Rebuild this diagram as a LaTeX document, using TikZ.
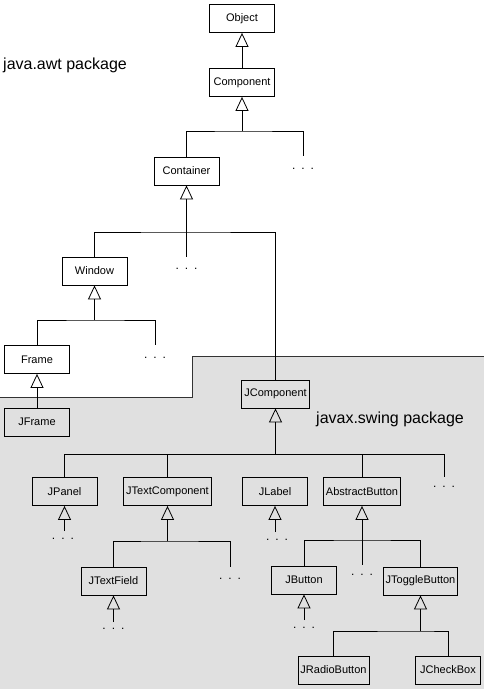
\documentclass[tikz,border=0pt]{standalone}
\usepackage{fontspec}
\setmainfont{Liberation Sans}
\usepackage{tikz}
\usetikzlibrary{arrows.meta}

\newcommand{\moredots}{.\hspace{6pt}.\hspace{6pt}.}

\begin{document}
\begin{tikzpicture}[x=1pt,y=-1pt,
		cls/.style={draw, line width=.8pt, minimum width=65pt, minimum height=28pt, inner xsep=2.5pt, font=\fontsize{11}{13}\selectfont},
		inh/.style={-{Triangle[open,width=13pt,length=14pt]}, line width=.8pt},
		tree/.style={line width=.8pt},
		more/.style={anchor=base, inner sep=0pt, font=\fontsize{12}{14}\selectfont},
		pkg/.style={anchor=west, inner sep=0pt, font=\fontsize{16}{19}\selectfont}]
		\useasboundingbox (0,0) rectangle (484,689);

		% swing area
		\fill[black!12] (0,397) -- (192,397) -- (192,356) -- (484,356) -- (484,689) -- (0,689) -- cycle;
		\draw[line width=.8pt, black!80] (0,397) -- (192,397) -- (192,356) -- (484,356);

		\node[pkg] (awt) at (3,65) {java.awt package};
		\node[pkg] (swing) at (316,419) {javax.swing package};

		% classes
		\node[cls] (obj) at (242,18.5) {Object};
		\node[cls] (comp) at (242,82.5) {Component};
		\node[cls] (cont) at (186.5,171) {Container};
		\node[cls] (win) at (94.5,271) {Window};
		\node[cls] (frame) at (37,359.5) {Frame};
		\node[cls] (jframe) at (37,422) {JFrame};
		\node[cls] (jcomp) at (275.5,394) {JComponent};
		\node[cls] (jpanel) at (64.5,491.5) {JPanel};
		\node[cls] (jtc) at (167.5,491.5) {JTextComponent};
		\node[cls] (jlabel) at (275,491.5) {JLabel};
		\node[cls] (abtn) at (362,491.5) {AbstractButton};
		\node[cls] (jtf) at (113.5,581) {JTextField};
		\node[cls] (jbtn) at (304,580) {JButton};
		\node[cls] (jtog) at (420.5,581) {JToggleButton};
		\node[cls] (jradio) at (333.5,670) {JRadioButton};
		\node[cls] (jcheck) at (448,670) {JCheckBox};

		% more subclasses
		\node[more] (m1) at (303,169) {\moredots};
		\node[more] (m2) at (186.5,269) {\moredots};
		\node[more] (m3) at (155,358) {\moredots};
		\node[more] (m4) at (444,487) {\moredots};
		\node[more] (m5) at (63,539) {\moredots};
		\node[more] (m6) at (230,579) {\moredots};
		\node[more] (m7) at (277,540) {\moredots};
		\node[more] (m8) at (362,575) {\moredots};
		\node[more] (m9) at (113.5,629) {\moredots};
		\node[more] (m10) at (304,628) {\moredots};

		\coordinate (e1) at (303,156);
		\coordinate (e2) at (186.5,257);
		\coordinate (e3) at (155,345);
		\coordinate (e4) at (444,477);
		\coordinate (e5) at (64.5,531);
		\coordinate (e6) at (230,567);
		\coordinate (e7) at (275,532);
		\coordinate (e8) at (362,565);
		\coordinate (e9) at (113.5,622);
		\coordinate (e10) at (304,620);

		% junctions
		\coordinate (b1) at (242,131);
		\coordinate (b2) at (186.5,232);
		\coordinate (b3) at (94.5,320);
		\coordinate (b4) at (275.5,454);
		\coordinate (b5) at (167.5,541);
		\coordinate (b6) at (362,540);
		\coordinate (b7) at (420.5,631);

		% inheritance
		\draw[inh] (comp) -- (obj);

		\draw[inh] (b1) -- (comp);
		\draw[tree] (cont.north) |- (b1) -| (e1);

		\draw[inh] (b2) -- (cont);
		\draw[tree] (win.north) |- (b2) -| (jcomp.north);
		\draw[tree] (b2) -- (e2);

		\draw[inh] (b3) -- (win);
		\draw[tree] (frame.north) |- (b3) -| (e3);

		\draw[inh] (jframe) -- (frame);

		\draw[inh] (b4) -- (jcomp);
		\draw[tree] (jpanel.north) |- (b4) -| (e4);
		\draw[tree] (jtc.north) |- (b4);
		\draw[tree] (abtn.north) |- (b4);

		\draw[inh] (e5) -- (jpanel);

		\draw[inh] (b5) -- (jtc);
		\draw[tree] (jtf.north) |- (b5) -| (e6);

		\draw[inh] (e7) -- (jlabel);

		\draw[inh] (b6) -- (abtn);
		\draw[tree] (jbtn.north) |- (b6) -| (jtog.north);
		\draw[tree] (b6) -- (e8);

		\draw[inh] (e9) -- (jtf);
		\draw[inh] (e10) -- (jbtn);

		\draw[inh] (b7) -- (jtog);
		\draw[tree] (jradio.north) |- (b7) -| (jcheck.north);
	\end{tikzpicture}
\end{document}
